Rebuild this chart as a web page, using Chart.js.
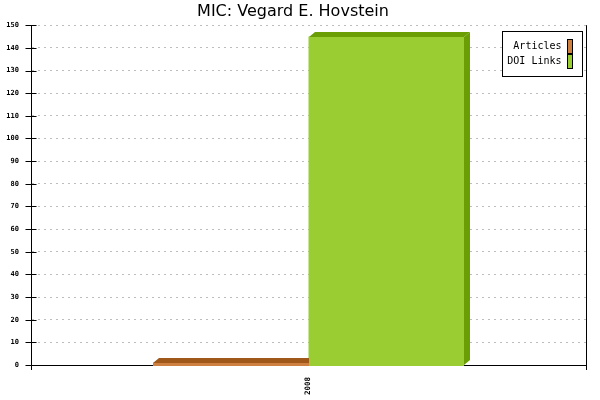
<!DOCTYPE html>
<html><head><meta charset="utf-8">
<script src="https://cdn.jsdelivr.net/npm/chart.js@4/dist/chart.umd.min.js"></script>
<style>html,body{margin:0;padding:0;background:#fff}</style>
</head><body>
<canvas id="c" width="600" height="400"></canvas>
<script>
const chartTitle = 'MIC: Vegard E. Hovstein';
const categories = ['2008'];
const seriesNames = ['Articles', 'DOI Links'];
const articles = [1];
const doiLinks = [145];
const yMin = 0, yMax = 150, yStep = 10;

const frontColors = ['#cd8040', '#9acd32'];
const darkColors = ['#a0581a', '#6a9e04'];

const bar3d = {
  id: 'bar3d',
  afterDatasetsDraw(chart) {
    const ctx = chart.ctx;
    const dx = 6, dy = 5;
    const base = Math.round(chart.scales.y.getPixelForValue(0));
    chart.data.datasets.forEach((ds, i) => {
      const meta = chart.getDatasetMeta(i);
      meta.data.forEach(bar => {
        const p = bar.getProps(['x', 'y', 'width'], true);
        const l = Math.round(p.x - p.width / 2), r = Math.round(p.x + p.width / 2);
        const t = Math.round(p.y);
        ctx.save();
        ctx.fillStyle = ds.backgroundColor;
        ctx.fillRect(l, t, r - l, base - t + 1);
        ctx.fillStyle = darkColors[i];
        ctx.beginPath();
        ctx.moveTo(l, t);
        ctx.lineTo(l + dx, t - dy);
        ctx.lineTo(r + dx, t - dy);
        ctx.lineTo(r, t);
        ctx.closePath();
        ctx.fill();
        ctx.beginPath();
        ctx.moveTo(r, t);
        ctx.lineTo(r + dx, t - dy);
        ctx.lineTo(r + dx, base - dy);
        ctx.lineTo(r, base);
        ctx.closePath();
        ctx.fill();
        ctx.restore();
      });
    });
  },
  afterDraw(chart) {
    const ctx = chart.ctx;
    const ys = chart.scales.y;
    const xl = Math.round(chart.chartArea.left) + 0.5;
    // y tick marks crossing the axis
    ctx.save();
    ctx.strokeStyle = '#000';
    ctx.lineWidth = 1;
    ys.ticks.forEach(tk => {
      const yy = Math.round(ys.getPixelForValue(tk.value)) + 0.5;
      ctx.beginPath();
      ctx.moveTo(xl - 6, yy);
      ctx.lineTo(xl + 5, yy);
      ctx.stroke();
    });
    // legend
    const bw = 80, bh = 45;
    const bx = Math.round(chart.chartArea.right) - 84 + 0.5;
    const by = Math.round(chart.chartArea.top) + 6 + 0.5;
    ctx.fillStyle = '#fff';
    ctx.fillRect(bx, by, bw, bh);
    ctx.strokeRect(bx, by, bw, bh);
    ctx.font = '10px "DejaVu Sans Mono"';
    ctx.textAlign = 'right';
    ctx.textBaseline = 'middle';
    chart.data.datasets.forEach((ds, i) => {
      const cy = by + 15 + i * 15;
      ctx.fillStyle = '#000';
      ctx.fillText(ds.label, bx + 59, cy);
      ctx.fillStyle = ds.backgroundColor;
      ctx.fillRect(bx + 65, cy - 7, 5, 14);
      ctx.strokeRect(bx + 65, cy - 7, 5, 14);
    });
    ctx.restore();
  }
};

new Chart(document.getElementById('c'), {
  type: 'bar',
  data: {
    labels: categories,
    datasets: [
      { label: seriesNames[0], data: articles, backgroundColor: frontColors[0] },
      { label: seriesNames[1], data: doiLinks, backgroundColor: frontColors[1] }
    ]
  },
  options: {
    responsive: false,
    devicePixelRatio: 1,
    animation: false,
    layout: { padding: { left: 0, right: 14, top: 0, bottom: 0 } },
    datasets: { bar: { categoryPercentage: 0.56, barPercentage: 1 } },
    plugins: {
      legend: { display: false },
      tooltip: { enabled: false },
      title: {
        display: true, text: chartTitle, color: '#000',
        font: { family: '"DejaVu Sans"', size: 16, weight: 'normal' },
        padding: { top: 2, bottom: 4 }
      }
    },
    scales: {
      x: {
        offset: true,
        grid: { color: '#000', lineWidth: 1, tickLength: 5, tickColor: '#000', offset: true },
        border: { color: '#000', width: 1 },
        ticks: { color: '#000', minRotation: 90, maxRotation: 90, padding: 7,
                 font: { family: '"DejaVu Sans Mono"', size: 7.5, weight: 'bold' } },
        afterFit: s => { s.height = 35; }
      },
      y: {
        min: yMin, max: yMax,
        grid: { color: '#bdbdbd', lineWidth: 1, tickLength: 6, tickColor: 'rgba(0,0,0,0)' },
        border: { color: '#000', width: 1, dash: [2, 4] },
        ticks: { stepSize: yStep, color: '#000', padding: 6,
                 font: { family: '"DejaVu Sans Mono"', size: 7, weight: 'bold' } },
        afterFit: s => { s.width = 31; }
      }
    }
  },
  plugins: [bar3d]
});
</script>
</body></html>
